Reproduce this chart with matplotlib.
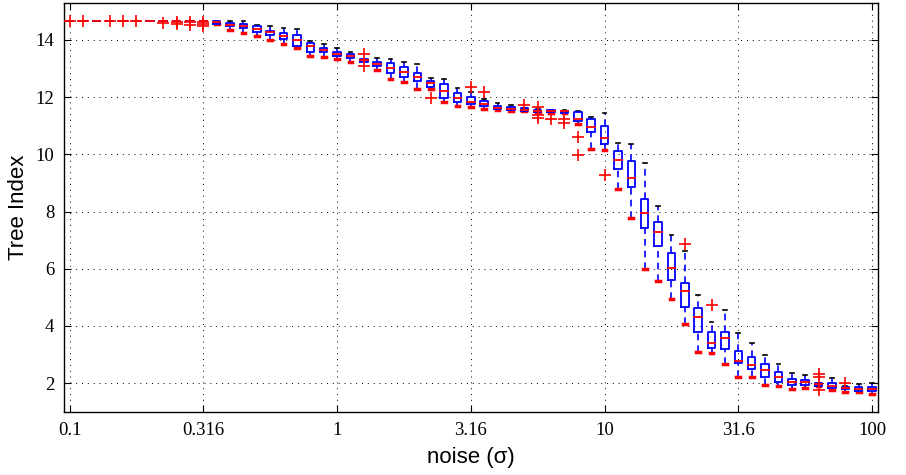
import numpy as np
import matplotlib
matplotlib.use('Agg')
import matplotlib.pyplot as plt

# noise levels (sigma), 61 log-spaced categories from 0.1 to 100
noise = np.logspace(-1, 2, 61)

whisk_lo = [14.65, 14.65, 14.65, 14.65, 14.65, 14.65, 14.65, 14.65, 14.65, 14.65,
            14.65, 14.54, 14.36, 14.24, 14.12, 14.00, 13.87, 13.71, 13.44, 13.40,
            13.33, 13.23, 13.22, 12.93, 12.63, 12.52, 12.29, 12.30, 11.83, 11.70,
            11.67, 11.59, 11.54, 11.52, 11.50, 11.48, 11.46, 11.45, 11.05, 10.19,
            10.15, 8.77, 7.79, 5.98, 5.57, 4.93, 4.07, 3.10, 3.07, 2.67,
            2.21, 2.23, 1.94, 1.90, 1.81, 1.82, 1.89, 1.76, 1.69, 1.69,
            1.62]
q1 = [14.65, 14.65, 14.65, 14.65, 14.65, 14.65, 14.65, 14.65, 14.65, 14.65,
      14.65, 14.57, 14.47, 14.41, 14.29, 14.17, 14.02, 13.80, 13.57, 13.56,
      13.42, 13.36, 13.22, 13.07, 12.84, 12.72, 12.58, 12.35, 11.98, 11.82,
      11.75, 11.69, 11.58, 11.55, 11.52, 11.49, 11.47, 11.46, 11.16, 10.77,
      10.35, 9.49, 8.85, 7.42, 6.80, 5.61, 4.67, 3.80, 3.22, 3.18,
      2.70, 2.49, 2.23, 2.05, 1.95, 1.93, 1.91, 1.82, 1.79, 1.74,
      1.74]
median = [14.65, 14.65, 14.65, 14.65, 14.65, 14.65, 14.65, 14.65, 14.65, 14.65,
          14.65, 14.61, 14.52, 14.50, 14.37, 14.26, 14.12, 14.00, 13.77, 13.65,
          13.51, 13.44, 13.28, 13.16, 13.01, 12.89, 12.72, 12.51, 12.23, 11.96,
          11.84, 11.76, 11.63, 11.60, 11.56, 11.52, 11.51, 11.50, 11.25, 10.97,
          10.56, 9.79, 9.16, 7.94, 7.28, 6.02, 5.23, 4.30, 3.39, 3.57,
          2.76, 2.65, 2.46, 2.21, 2.04, 2.03, 1.96, 1.89, 1.84, 1.80,
          1.80]
q3 = [14.65, 14.65, 14.65, 14.65, 14.65, 14.65, 14.65, 14.65, 14.65, 14.65,
      14.65, 14.65, 14.58, 14.55, 14.47, 14.31, 14.23, 14.17, 13.88, 13.71,
      13.57, 13.51, 13.34, 13.22, 13.18, 13.04, 12.84, 12.58, 12.46, 12.16,
      12.00, 11.87, 11.70, 11.66, 11.61, 11.56, 11.55, 11.53, 11.48, 11.23,
      10.99, 10.13, 9.75, 8.43, 7.64, 6.54, 5.49, 4.62, 3.80, 3.78,
      3.13, 2.91, 2.66, 2.38, 2.14, 2.11, 2.00, 2.00, 1.88, 1.86,
      1.86]
whisk_hi = [14.65, 14.65, 14.65, 14.65, 14.65, 14.65, 14.65, 14.65, 14.65, 14.65,
            14.65, 14.65, 14.65, 14.65, 14.52, 14.47, 14.41, 14.37, 13.97, 13.87,
            13.73, 13.59, 13.34, 13.38, 13.32, 13.21, 13.17, 12.68, 12.64, 12.33,
            12.19, 11.94, 11.79, 11.72, 11.62, 11.57, 11.56, 11.54, 11.50, 11.31,
            11.46, 10.41, 10.35, 9.69, 8.20, 7.18, 6.63, 5.08, 4.12, 4.56,
            3.74, 3.39, 2.97, 2.67, 2.37, 2.29, 2.02, 2.17, 1.90, 1.96,
            2.00]
outliers = [[14.65], [14.65], [], [14.65], [14.65], [14.65], [], [14.58], [14.61, 14.55], [14.64, 14.52],
            [14.63, 14.57, 14.49], [], [], [], [], [], [], [], [], [],
            [], [], [13.49, 13.09], [], [], [], [], [11.98], [], [],
            [12.37], [12.19], [], [], [11.71], [11.65, 11.37, 11.28], [11.23], [11.23, 11.10], [10.62, 9.97], [],
            [9.29], [], [], [], [], [], [6.87], [], [4.72], [],
            [], [], [], [], [], [], [2.31, 2.21, 1.75], [], [2.00], [],
            []]

xtick_vals = [0.1, 0.316, 1, 3.16, 10, 31.6, 100]
xtick_labels = ['0.1', '0.316', '1', '3.16', '10', '31.6', '100']
ytick_vals = [2, 4, 6, 8, 10, 12, 14]

fig = plt.figure(figsize=(9.06, 4.75), dpi=100)
ax = fig.add_axes([64/906, (475-412)/475, (878-64)/906, (412-3)/475])
ax.set_xscale('log')

hw = 0.014   # half box width in decades
cw = 0.007   # half cap width in decades
blue = (0, 0, 1)
red = (1, 0, 0)
for i, x in enumerate(noise):
    xl, xr = x * 10**(-hw), x * 10**hw
    cl, cr = x * 10**(-cw), x * 10**cw
    lo, a, m, b, hi = whisk_lo[i], q1[i], median[i], q3[i], whisk_hi[i]
    if hi > b:
        ax.plot([x, x], [b, hi], color=blue, ls=(0, (4, 3)), lw=1.2, zorder=2)
        ax.plot([cl, cr], [hi, hi], color='k', lw=1.2, zorder=3)
    if lo < a:
        ax.plot([x, x], [lo, a], color=blue, ls=(0, (4, 3)), lw=1.2, zorder=2)
        ax.plot([cl, cr], [lo, lo], color=red, lw=2.5, zorder=3)
    ax.plot([xl, xr, xr, xl, xl], [a, a, b, b, a], color=blue, lw=1.3, zorder=3)
    ax.plot([xl, xr], [m, m], color=red, lw=1.3, zorder=4)
    if outliers[i]:
        ax.plot([x] * len(outliers[i]), outliers[i], '+', color=red, ms=9, mew=1.2, zorder=5)

ax.set_xlim(10**-1.0206, 10**2.0224)
ax.set_ylim(0.99, 15.29)
ax.set_xticks(xtick_vals)
ax.set_xticklabels(xtick_labels)
ax.xaxis.set_minor_locator(matplotlib.ticker.NullLocator())
ax.set_yticks(ytick_vals)
ax.tick_params(direction='in', top=True, right=True, length=5, width=0.8, pad=7)
for lab in ax.get_xticklabels() + ax.get_yticklabels():
    lab.set_fontfamily('Liberation Serif')
    lab.set_fontsize(13.5)
ax.grid(True, which='major', color='k', linestyle=(0, (1, 5)), linewidth=0.7)
for s in ax.spines.values():
    s.set_linewidth(1.0)
ax.set_xlabel('noise (σ)', fontfamily='Liberation Sans', fontsize=16, labelpad=6)
ax.set_ylabel('Tree Index', fontfamily='Liberation Sans', fontsize=16, labelpad=5)

fig.savefig('out.png', dpi=100)
